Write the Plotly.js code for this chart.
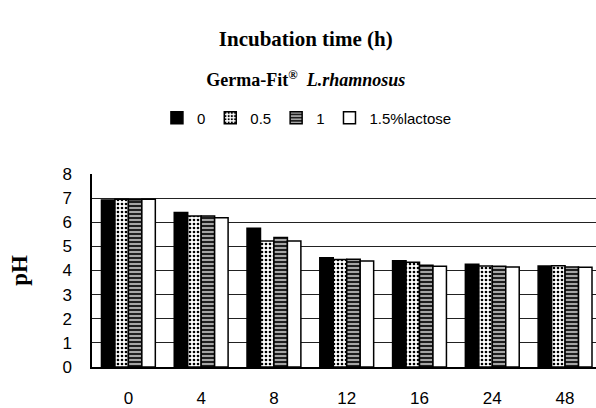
<!DOCTYPE html>
<html>
<head>
<meta charset="utf-8">
<script src="https://cdn.plot.ly/plotly-3.0.1.min.js"></script>
<style>html,body{margin:0;padding:0;background:#fff;}#chart{width:596px;height:408px;}</style>
</head>
<body>
<div id="chart"></div>
<script>
// Incubation time (h)
const categories = ['0', '4', '8', '12', '16', '24', '48'];
// Lactose concentration series
const seriesNames = ['0', '0.5', '1', '1.5%lactose'];
const lactose0 = [6.92, 6.40, 5.75, 4.53, 4.40, 4.26, 4.19];
const lactose05 = [6.95, 6.26, 5.22, 4.46, 4.34, 4.19, 4.20];
const lactose1 = [6.93, 6.26, 5.37, 4.47, 4.22, 4.18, 4.15];
const lactose15 = [6.95, 6.19, 5.22, 4.39, 4.18, 4.15, 4.13];
const yTicks = [0, 1, 2, 3, 4, 5, 6, 7, 8];

const seriesValues = [lactose0, lactose05, lactose1, lactose15];
const fills = [
  { color: '#000000', pattern: { shape: '' } },
  { color: '#ffffff', pattern: { shape: '.', fgcolor: '#000000', bgcolor: '#ffffff', size: 4, solidity: 0.35 } },
  { color: '#2a2a2a', pattern: { shape: '-', fgcolor: '#ffffff', bgcolor: '#1e1e1e', size: 4, solidity: 0.3 } },
  { color: '#ffffff', pattern: { shape: '' } }
];

const traces = seriesNames.map((name, i) => ({
  type: 'bar',
  name: name,
  x: categories,
  y: seriesValues[i],
  marker: {
    color: fills[i].color,
    pattern: fills[i].pattern,
    line: { color: '#000000', width: 1.5 }
  },
  hoverinfo: 'x+y+name'
}));

const layout = {
  width: 596,
  height: 408,
  margin: { l: 92, r: 0, t: 174, b: 41, pad: 0 },
  paper_bgcolor: '#ffffff',
  plot_bgcolor: '#ffffff',
  font: { family: '"Liberation Sans", Arial, sans-serif', color: '#000000', size: 17 },
  barmode: 'group',
  bargap: 0.26,
  bargroupgap: 0,
  title: {
    text: '<b>Incubation time (h)</b>',
    font: { family: '"Liberation Serif", "Times New Roman", serif', size: 21, color: '#000000' },
    xref: 'container', x: 0.513, xanchor: 'center',
    yref: 'container', y: 0.905, yanchor: 'middle',
    subtitle: {
      text: '<b>Germa-Fit<sup>®</sup>  <i>L.rhamnosus</i></b>',
      font: { family: '"Liberation Serif", "Times New Roman", serif', size: 18, color: '#000000' }
    }
  },
  legend: {
    orientation: 'h',
    xref: 'container', x: 0.515, xanchor: 'center',
    yref: 'container', y: 0.711, yanchor: 'middle',
    font: { family: '"Liberation Sans", Arial, sans-serif', size: 15, color: '#000000' },
    itemwidth: 30,
    traceorder: 'normal',
    bgcolor: 'rgba(0,0,0,0)'
  },
  xaxis: {
    type: 'category',
    range: [-0.5, 6.425],
    showline: true, linecolor: '#000000', linewidth: 1.5,
    showgrid: false,
    ticks: '',
    tickfont: { size: 17 },
    ticklabelstandoff: 15,
    fixedrange: true
  },
  yaxis: {
    range: [0, 8],
    tickvals: yTicks,
    showline: true, linecolor: '#000000', linewidth: 1.5,
    showgrid: true, gridcolor: '#222222', gridwidth: 1,
    zeroline: false,
    ticks: '',
    tickfont: { size: 17 },
    ticklabelstandoff: 15,
    title: {
      text: '<b>pH</b>',
      font: { family: '"Liberation Serif", "Times New Roman", serif', size: 23, color: '#000000' },
      standoff: 28
    },
    fixedrange: true
  }
};

Plotly.newPlot('chart', traces, layout, { displayModeBar: false });
</script>
</body>
</html>
